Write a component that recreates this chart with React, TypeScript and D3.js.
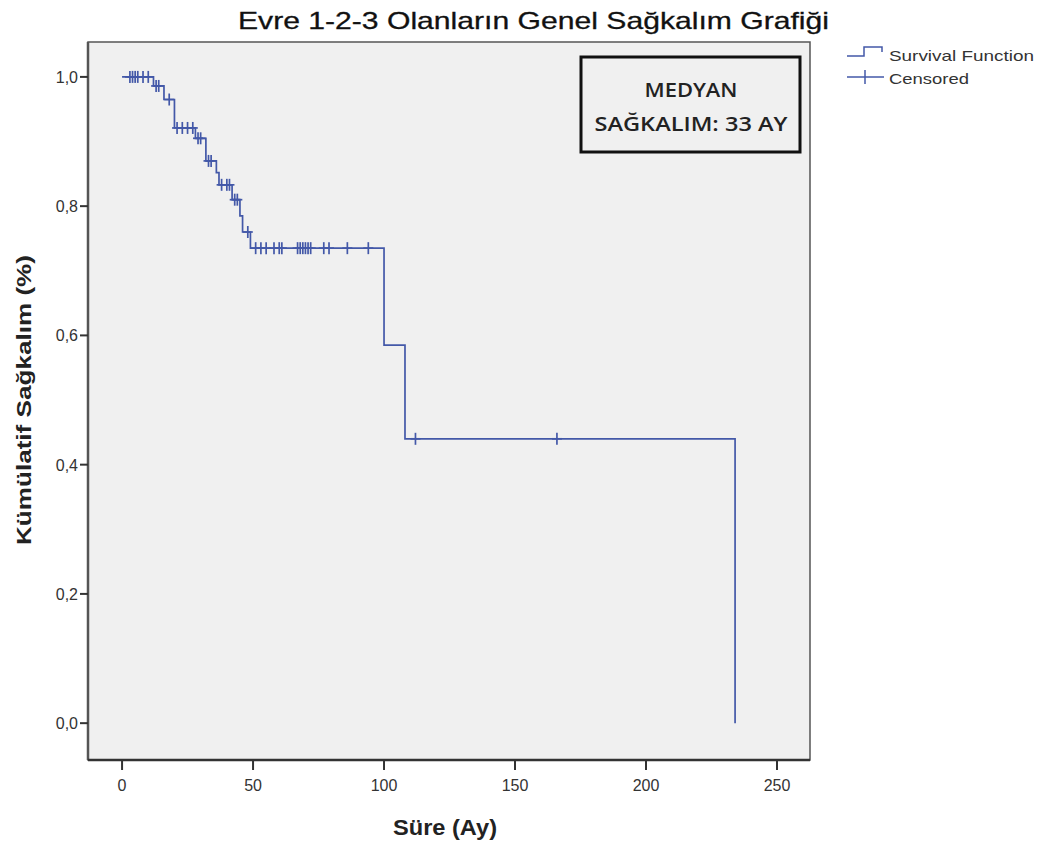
import React from "react";
import * as d3 from "d3";

const stepTimes = [0, 12, 16, 20, 28, 32, 36, 37, 42, 45, 46, 49, 100, 108, 234];
const stepSurv = [1.0, 0.986, 0.965, 0.921, 0.905, 0.87, 0.852, 0.833, 0.81, 0.785, 0.76, 0.735, 0.585, 0.44, 0.0];
const censoredTimes = [3, 4, 5, 6, 8, 10, 13, 14, 18, 21, 23, 25, 27, 29, 30, 33, 34, 38, 40, 41, 43, 44, 48, 51, 53, 55, 58, 60, 61, 67, 68, 69, 70, 71, 72, 77, 79, 86, 94, 112, 166];
const xTicks = [0, 50, 100, 150, 200, 250];
const yTicks = [0, 0.2, 0.4, 0.6, 0.8, 1.0];
const title = "Evre 1-2-3 Olanların Genel Sağkalım Grafiği";
const xTitle = "Süre (Ay)";
const yTitle = "Kümülatif Sağkalım (%)";
const legendItems = ["Survival Function", "Censored"];
const boxLines = ["MEDYAN", "SAĞKALIM: 33 AY"];

const W = 1047, H = 852;
const L = 88, R = 810, T = 42, B = 760;
const BLUE = "#4358a8";

function survAt(t: number) {
  let s = 1;
  for (let i = 0; i < stepTimes.length; i++) if (stepTimes[i] <= t) s = stepSurv[i];
  return s;
}

export default function App() {
  const x = d3.scaleLinear().domain([-13, 262.6]).range([L, R]);
  const y = d3.scaleLinear().domain([-0.057, 1.054]).range([B, T]);
  const pts: [number, number][] = stepTimes.map((t, i) => [t, stepSurv[i]]);
  const line = d3.line<[number, number]>().x(d => x(d[0])).y(d => y(d[1])).curve(d3.curveStepAfter);
  const font = "Arial, 'Liberation Sans', sans-serif";
  const legW = [145, 80];
  const boxW = [93, 193];
  return (
    <svg width={W} height={H} style={{ position: "absolute", left: 0, top: 0, background: "#fff" }}>
      <rect x={0} y={0} width={W} height={H} fill="#fff" />
      <text x={238} y={29} fontFamily={font} fontSize={24} fill="#111" stroke="#111" strokeWidth={0.3} textLength={591} lengthAdjust="spacingAndGlyphs">{title}</text>
      <rect x={L} y={T} width={R - L} height={B - T} fill="#f0f0f0" stroke="#555" strokeWidth={1.5} />
      <line x1={L} x2={L} y1={T} y2={B} stroke="#555" strokeWidth={2.5} />
      <line x1={L} x2={R} y1={B} y2={B} stroke="#333" strokeWidth={2.5} />
      {yTicks.map(v => (
        <g key={v}>
          <line x1={L - 8} x2={L} y1={y(v)} y2={y(v)} stroke="#333" strokeWidth={2} />
          <text x={L - 10} y={y(v) + 6} textAnchor="end" fontFamily={font} fontSize={16} fill="#333">{v.toFixed(1).replace(".", ",")}</text>
        </g>
      ))}
      {xTicks.map(v => (
        <g key={v}>
          <line x1={x(v)} x2={x(v)} y1={B} y2={B + 10} stroke="#333" strokeWidth={2} />
          <text x={x(v)} y={B + 31} textAnchor="middle" fontFamily={font} fontSize={16} fill="#333">{v}</text>
        </g>
      ))}
      <text x={393} y={835} fontFamily={font} fontSize={22} fontWeight="bold" fill="#222" textLength={104} lengthAdjust="spacingAndGlyphs">{xTitle}</text>
      <text transform={`translate(31,${y(0.5)}) rotate(-90)`} textAnchor="middle" fontFamily={font} fontSize={21} fontWeight="bold" fill="#222" textLength={290} lengthAdjust="spacingAndGlyphs">{yTitle}</text>
      <path d={line(pts) || ""} fill="none" stroke={BLUE} strokeWidth={1.7} />
      {censoredTimes.map((t, i) => (
        <g key={i} stroke={BLUE} strokeWidth={1.7}>
          <line x1={x(t) - 5} x2={x(t) + 5} y1={y(survAt(t))} y2={y(survAt(t))} />
          <line x1={x(t)} x2={x(t)} y1={y(survAt(t)) - 6} y2={y(survAt(t)) + 6} />
        </g>
      ))}
      <rect x={581} y={57} width={219} height={95} fill="#f0f0f0" stroke="#111" strokeWidth={3} />
      {boxLines.map((s, i) => (
        <text key={i} x={691 - boxW[i] / 2} y={97 + i * 34} fontFamily="'Open Sans', sans-serif" fontSize={19} fontWeight={600} fill="#222" textLength={boxW[i]} lengthAdjust="spacingAndGlyphs">{s}</text>
      ))}
      <path d="M847,56 H864 V47 H882 V52" fill="none" stroke={BLUE} strokeWidth={1.5} />
      <line x1={847} x2={884} y1={77} y2={77} stroke={BLUE} strokeWidth={1.5} />
      <line x1={865} x2={865} y1={70} y2={84} stroke={BLUE} strokeWidth={1.5} />
      {legendItems.map((s, i) => (
        <text key={i} x={889} y={61 + i * 23} fontFamily={font} fontSize={15} fill="#333" textLength={legW[i]} lengthAdjust="spacingAndGlyphs">{s}</text>
      ))}
    </svg>
  );
}
